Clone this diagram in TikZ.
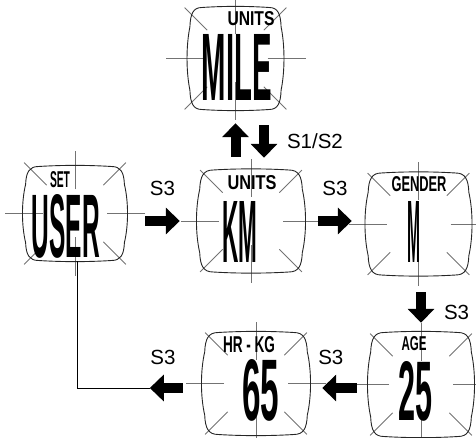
\documentclass[tikz,border=0pt]{standalone}
\usepackage{fontspec}
\setmainfont{Liberation Sans}
\usepackage{graphicx}
\usetikzlibrary{arrows.meta,calc}

\tikzset{
    lcd/.style={inner sep=0pt},
    lcdframe/.style={draw=black!85, line width=0.9pt},
    ray/.style={draw=black!55, line width=0.8pt},
    lcdtop/.style={inner sep=0pt},
    lcdbig/.style={inner sep=0pt},
    keyarrow/.style={draw, line width=10pt, -{Triangle[length=14pt,width=26pt]}},
    keylabel/.style={font=\fontsize{20.5}{24}\selectfont, inner sep=0pt},
    backline/.style={draw, line width=1pt},
}

\newcommand\lcdtext[3]{\resizebox{#1pt}{#2pt}{\textbf{#3}}}
\newcommand\lcd[4]{%
    \node[lcd, minimum width={2*#3pt}, minimum height={2*#4pt}] (#1) at (#2) {};
    \begin{scope}[shift={(#1.center)}]
        \foreach \a/\r/\s in {0/32/70,180/32/70,90/24/62,270/24/62,45/40/72,135/40/72,225/40/72,315/40/72}
            \path[ray] (\a:\r) -- (\a:\s);
        \path[lcdframe] (-0.7*#3,-#4) .. controls (-0.25*#3,-#4-1.5) and (0.25*#3,-#4-1.5) .. (0.7*#3,-#4)
            .. controls (0.88*#3,-#4) and (0.94*#3,-0.88*#4) .. (0.95*#3,-0.62*#4)
            .. controls (1.03*#3,-0.25*#4) and (1.03*#3,0.25*#4) .. (0.95*#3,0.62*#4)
            .. controls (0.94*#3,0.88*#4) and (0.88*#3,#4) .. (0.7*#3,#4)
            .. controls (0.25*#3,#4+1.5) and (-0.25*#3,#4+1.5) .. (-0.7*#3,#4)
            .. controls (-0.88*#3,#4) and (-0.94*#3,0.88*#4) .. (-0.95*#3,0.62*#4)
            .. controls (-1.03*#3,0.25*#4) and (-1.03*#3,-0.25*#4) .. (-0.95*#3,-0.62*#4)
            .. controls (-0.94*#3,-0.88*#4) and (-0.88*#3,-#4) .. cycle;
    \end{scope}}

\begin{document}
\begin{tikzpicture}[x=1pt,y=-1pt]
    \useasboundingbox (0,0) rectangle (476,438);

    \lcd{mile}{235.5,58.5}{48}{51}
    \lcd{user}{75,213.5}{52}{47}
    \lcd{km}{251,221}{54}{51}
    \lcd{gender}{418.5,224}{53}{51}
    \lcd{age}{421,384.5}{53}{52}
    \lcd{hrkg}{256,383.5}{54}{51}

    \node[lcdtop] (mile-t) at (251,19) {\lcdtext{47}{14}{UNITS}};
    \node[lcdbig] (mile-b) at (237,67) {\lcdtext{70}{66}{MILE}};
    \node[lcdtop] (user-t) at (60,180) {\lcdtext{20}{16}{SET}};
    \node[lcdbig] (user-b) at (66,226) {\lcdtext{68}{63}{USER}};
    \node[lcdtop] (km-t) at (252,183) {\lcdtext{49}{14}{UNITS}};
    \node[lcdbig] (km-b) at (240,232) {\lcdtext{35}{61}{KM}};
    \node[lcdtop] (gender-t) at (419,184) {\lcdtext{55}{15}{GENDER}};
    \node[lcdbig] (gender-b) at (414,232) {\lcdtext{13}{61}{M}};
    \node[lcdtop] (age-t) at (414,344) {\lcdtext{25}{14}{AGE}};
    \node[lcdbig] (age-b) at (415,391) {\lcdtext{34}{59}{25}};
    \node[lcdtop] (hrkg-t) at (249,345) {\lcdtext{52}{16}{HR - KG}};
    \node[lcdbig] (hrkg-b) at (261,390) {\lcdtext{37}{61}{65}};

    \path[keyarrow] ($(km.north -| mile.south)+(0,-13)$) -- ($(mile.south)+(0,13.5)$);
    \path[keyarrow] ($(mile.south)+(28.5,15.5)$) -- node[keylabel, right=18pt] (s12) {S1/S2} ($(km.north -| mile.south)+(28.5,-12)$);

    \path[keyarrow] ($(user.east |- km.west)+(18,0)$) -- node[keylabel, above=20pt] (s3a) {S3} ($(km.west)+(-17,0)$);
    \path[keyarrow] ($(km.east)+(13,0)$) -- node[keylabel, above=20pt] (s3b) {S3} ($(km.east -| gender.west)+(-13.5,0)$);
    \path[keyarrow] ($(age.north |- gender.south)+(0,17)$) -- node[keylabel, pos=0.65, right=18pt] (s3c) {S3} ($(age.north)+(0,-9.5)$);
    \path[keyarrow] ($(age.west)+(-11,3.5)$) -- node[keylabel, pos=0.75, above=18pt] (s3d) {S3} ($(hrkg.east |- age.west)+(12,3.5)$);
    \path[keyarrow] ($(hrkg.west)+(-19,4.5)$) -- node[keylabel, pos=0.6, above=18pt] (s3e) {S3} ($(hrkg.west)+(-52,4.5)$) coordinate (back);

    \path[backline] (back) -| ($(user.south)+(2,0)$);
\end{tikzpicture}
\end{document}
